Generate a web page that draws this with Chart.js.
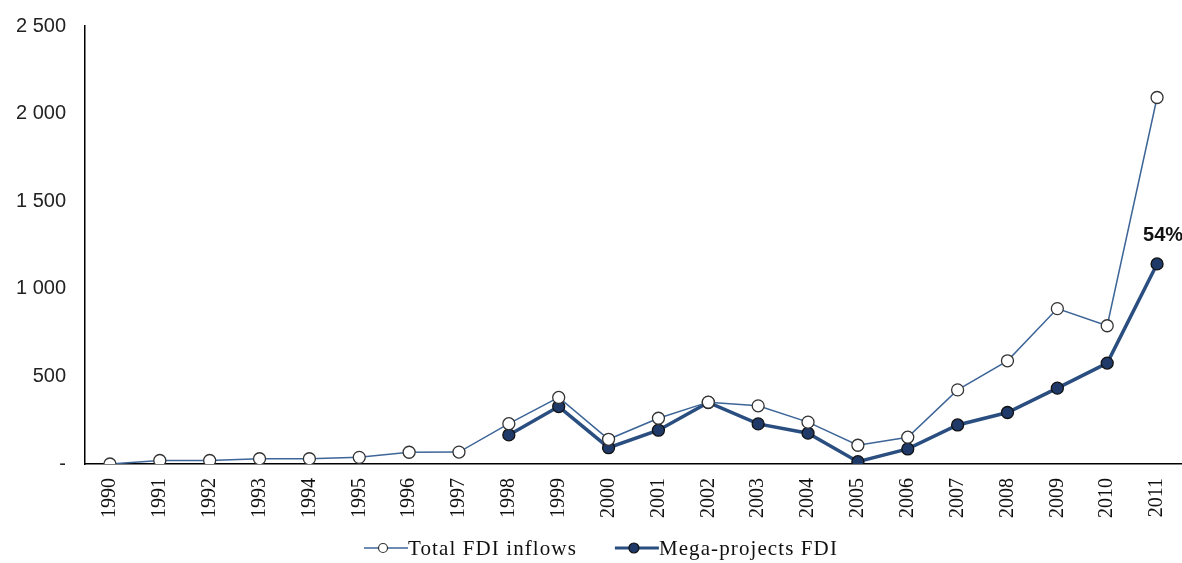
<!DOCTYPE html>
<html>
<head>
<meta charset="utf-8">
<script src="https://cdn.jsdelivr.net/npm/chart.js@4"></script>
<style>
  html, body { margin: 0; padding: 0; background: #fff; }
  #wrap { width: 1182px; height: 563px; }
</style>
</head>
<body>
<div id="wrap"><canvas id="grafico"></canvas></div>
<script>
// Dados
const anos = ['1990','1991','1992','1993','1994','1995','1996','1997','1998','1999','2000',
              '2001','2002','2003','2004','2005','2006','2007','2008','2009','2010','2011'];
const totalIDE = [0, 20, 20, 30, 30, 38, 67, 68, 230, 380, 141,
                  261, 353, 332, 239, 107, 153, 423, 589, 887, 789, 2092];
const megaProjetosIDE = [null, null, null, null, null, null, null, null, 166, 328, 93,
                         193, 351, 229, 176, 13, 86, 223, 294, 433, 576, 1142];
const valoresEixoY = [0, 500, 1000, 1500, 2000, 2500];
const rotuloParticipacao = '54%';

const corLinha = '#3d6597';
const corMega = '#2a4e80';
const corMarcador = '#1f3a68';

// Plugin para o rótulo "54%" acima do último ponto
const rotuloFinal = {
  id: 'rotuloFinal',
  afterDatasetsDraw(chart) {
    const meta = chart.getDatasetMeta(1);
    const p = meta.data[meta.data.length - 1];
    const ctx = chart.ctx;
    ctx.save();
    ctx.font = 'bold 20px "Liberation Sans", Arial, sans-serif';
    ctx.fillStyle = '#111';
    ctx.textAlign = 'left';
    ctx.textBaseline = 'middle';
    ctx.fillText(rotuloParticipacao, p.x - 14, p.y - 28);
    ctx.restore();
  }
};

// Legenda desenhada à mão: linha com marcador encostada no texto
const legendaLinhas = {
  id: 'legendaLinhas',
  afterDraw(chart) {
    const ctx = chart.ctx;
    const simbolo = 44, espaco = 38, centroX = 601, linhaY = 548, baseTexto = 555;
    ctx.save();
    ctx.font = '21px "Liberation Serif", "Times New Roman", serif';
    ctx.letterSpacing = '1.1px';
    const larguras = chart.data.datasets.map(ds => ctx.measureText(ds.label).width);
    const total = larguras.reduce((s, w) => s + w + simbolo, 0) + espaco * (larguras.length - 1);
    let x = centroX - total / 2;
    chart.data.datasets.forEach((ds, i) => {
      ctx.strokeStyle = ds.borderColor;
      ctx.lineWidth = i === 1 ? 3 : 1.5;
      ctx.beginPath(); ctx.moveTo(x, linhaY); ctx.lineTo(x + simbolo, linhaY); ctx.stroke();
      ctx.beginPath(); ctx.arc(x + 19, linhaY, i === 1 ? 5 : 4.5, 0, Math.PI * 2);
      ctx.fillStyle = ds.pointBackgroundColor;
      ctx.fill();
      ctx.lineWidth = 1.2; ctx.strokeStyle = ds.pointBorderColor;
      ctx.stroke();
      ctx.fillStyle = '#111';
      ctx.textAlign = 'left';
      ctx.textBaseline = 'alphabetic';
      ctx.fillText(ds.label, x + simbolo, baseTexto);
      x += simbolo + larguras[i] + espaco;
    });
    ctx.restore();
  }
};

const formatarY = v => v === 0 ? '-' : String(v).replace(/\B(?=(\d{3})+(?!\d))/g, ' ');

new Chart(document.getElementById('grafico'), {
  type: 'line',
  data: {
    labels: anos,
    datasets: [{
      label: 'Total FDI inflows',
      data: totalIDE,
      borderColor: corLinha,
      borderWidth: 1.5,
      pointRadius: 6,
      pointBackgroundColor: '#fff',
      pointBorderColor: '#333',
      pointBorderWidth: 1.3,
      tension: 0
    }, {
      label: 'Mega-projects FDI',
      data: megaProjetosIDE,
      borderColor: corMega,
      borderWidth: 3.5,
      pointRadius: 6,
      pointBackgroundColor: corMarcador,
      pointBorderColor: '#111',
      pointBorderWidth: 1.3,
      tension: 0
    }]
  },
  options: {
    responsive: true,
    maintainAspectRatio: false,
    animation: false,
    layout: { autoPadding: false, padding: { top: 26, right: 0, left: 0, bottom: 0 } },
    scales: {
      x: {
        offset: true,
        grid: { display: false },
        border: { display: true, color: '#000', width: 1.5 },
        afterFit: scale => {
          scale.height = 99;
          scale.paddingRight = 0;
        },
        ticks: {
          autoSkip: false,
          minRotation: 90,
          maxRotation: 90,
          padding: 6,
          color: '#111',
          font: { family: '"Liberation Serif", "Times New Roman", serif', size: 20 }
        }
      },
      y: {
        min: 0,
        max: 2500,
        grid: { display: false },
        border: { display: true, color: '#000', width: 1.5 },
        afterBuildTicks: scale => {
          scale.ticks = valoresEixoY.map(v => ({ value: v }));
        },
        afterFit: scale => { scale.width = 85; },
        ticks: {
          padding: 11,
          color: '#222',
          font: { family: '"Liberation Sans", Arial, sans-serif', size: 20 },
          callback: formatarY
        }
      }
    },
    plugins: {
      tooltip: { enabled: false },
      legend: { display: false }
    }
  },
  plugins: [rotuloFinal, legendaLinhas]
});
</script>
</body>
</html>
